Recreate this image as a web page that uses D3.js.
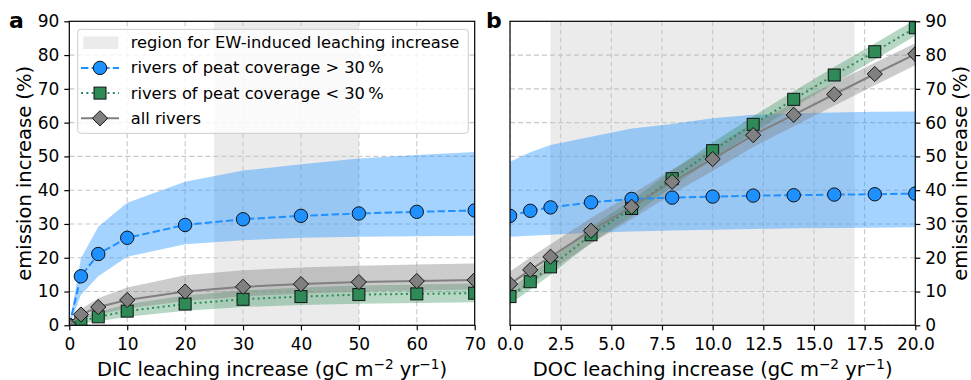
<!DOCTYPE html>
<html>
<head>
<meta charset="utf-8">
<script src="https://cdn.jsdelivr.net/npm/d3@7"></script>
<style>
  body { margin: 0; background: #fff; }
  svg { display: block; font-family: "DejaVu Sans", sans-serif; }
</style>
</head>
<body>
<div id="chart"></div>
<script>
// ============= Data =============
// panel a: DIC leaching increase
const dicX = [0, 2, 5, 10, 20, 30, 40, 50, 60, 70];
const dicPeatHigh = [0, 14.5, 21.1, 25.9, 29.7, 31.4, 32.4, 33.1, 33.6, 34.0];
const dicPeatHighLo = [0, 9.0, 14.5, 20.3, 24.0, 25.2, 25.9, 26.2, 26.4, 26.5];
const dicPeatHighHi = [0, 19.8, 29.2, 36.3, 42.5, 45.8, 47.7, 49.4, 50.4, 51.3];
const dicPeatLow = [0, 1.2, 2.5, 4.2, 6.3, 7.7, 8.5, 9.1, 9.3, 9.5];
const dicPeatLowLo = [0, 0.5, 1.2, 2.5, 4.3, 5.4, 6.0, 6.4, 6.6, 6.8];
const dicPeatLowHi = [0, 2.0, 4.0, 6.2, 8.8, 10.3, 11.2, 11.8, 12.1, 12.4];
const dicAll = [0, 3.2, 5.4, 7.5, 10.0, 11.4, 12.2, 12.8, 13.1, 13.4];
const dicAllLo = [0, 1.8, 3.2, 5.0, 7.2, 8.6, 9.4, 10.0, 10.3, 10.6];
const dicAllHi = [0, 4.8, 8.0, 11.2, 14.8, 16.3, 17.1, 17.6, 18.0, 18.3];

// panel b: DOC leaching increase
const docX = [0, 1, 2, 4, 6, 8, 10, 12, 14, 16, 18, 20];
const docPeatHigh = [32.4, 33.9, 34.9, 36.4, 37.4, 37.8, 38.1, 38.4, 38.5, 38.7, 38.8, 39.0];
const docPeatHighLo = [26.2, 26.5, 26.8, 27.4, 27.8, 28.1, 28.3, 28.5, 28.7, 28.8, 28.9, 29.0];
const docPeatHighHi = [48.4, 51.2, 53.4, 55.8, 58.3, 59.6, 61.3, 62.3, 62.8, 63.0, 63.2, 63.3];
const docPeatLow = [8.5, 12.9, 17.3, 26.8, 34.6, 43.4, 51.7, 59.5, 66.9, 74.1, 81.0, 88.1];
const docPeatLowLo = [6.3, 10.6, 15.0, 24.4, 32.2, 41.0, 49.3, 57.1, 64.5, 71.7, 78.6, 85.7];
const docPeatLowHi = [10.8, 15.2, 19.6, 29.2, 37.0, 45.8, 54.1, 61.9, 69.3, 76.5, 83.4, 90.5];
const docAll = [12.2, 16.4, 20.3, 28.0, 35.1, 42.5, 49.2, 56.3, 62.3, 68.4, 74.4, 80.3];
const docAllLo = [8.0, 12.3, 16.3, 24.2, 31.4, 38.9, 45.7, 52.8, 58.9, 65.0, 71.1, 77.0];
const docAllHi = [15.9, 20.1, 24.0, 31.8, 38.8, 46.1, 52.7, 59.8, 65.8, 71.8, 77.7, 83.5];

const yTicks = [0, 10, 20, 30, 40, 50, 60, 70, 80, 90];
const dicTicks = [0, 10, 20, 30, 40, 50, 60, 70];
const docTicks = [0, 2.5, 5, 7.5, 10, 12.5, 15, 17.5, 20];
const dicRegion = [25, 50];
const docRegion = [2, 17];

const legendLabels = [
    "region for EW-induced leaching increase",
    "rivers of peat coverage > 30\u2009%",
    "rivers of peat coverage < 30\u2009%",
    "all rivers"
];

// ============= Setup =============
const width = 971;
const height = 380;
const plotTop = 21.3, plotBottom = 325.3;

const colors = { blue: "#1e90ff", green: "#2e8b57", grey: "#808080" };
const tickFont = 17;
const labelFont = 19.5;

const svg = d3.select("#chart").append("svg")
    .attr("width", width)
    .attr("height", height);

const yScale = d3.scaleLinear().domain([0, 90]).range([plotBottom, plotTop]);

function series(xs, mid, lo, hi) {
    return xs.map((x, i) => ({ x, y: mid[i], lo: lo[i], hi: hi[i] }));
}

function marker(sel, kind, color) {
    if (kind === "circle") {
        sel.append("circle").attr("r", 6.7);
    } else if (kind === "square") {
        sel.append("rect").attr("x", -6).attr("y", -6).attr("width", 12).attr("height", 12);
    } else {
        sel.append("path").attr("d", "M0,-7.6L7.6,0L0,7.6L-7.6,0Z");
    }
    sel.selectAll("circle,rect,path")
        .attr("fill", color)
        .attr("stroke", "#111")
        .attr("stroke-width", 1);
}

function drawPanel(opts) {
    const { id, left, right, xDomain, ticks, tickFmt, region, data, axisSide, label } = opts;
    const xScale = d3.scaleLinear().domain(xDomain).range([left, right]);
    const g = svg.append("g");

    g.append("clipPath").attr("id", "clip-" + id)
        .append("rect")
        .attr("x", left).attr("y", plotTop)
        .attr("width", right - left).attr("height", plotBottom - plotTop);

    const plot = g.append("g").attr("clip-path", `url(#clip-${id})`);

    // EW region
    plot.append("rect")
        .attr("x", xScale(region[0]))
        .attr("width", xScale(region[1]) - xScale(region[0]))
        .attr("y", plotTop)
        .attr("height", plotBottom - plotTop)
        .attr("fill", "#d3d3d3")
        .attr("opacity", 0.45);

    // grid
    plot.selectAll(".gx").data(ticks).join("line")
        .attr("x1", d => xScale(d)).attr("x2", d => xScale(d))
        .attr("y1", plotTop).attr("y2", plotBottom)
        .attr("stroke", "#c8c8c8").attr("stroke-width", 1.1)
        .attr("stroke-dasharray", "5,3");
    plot.selectAll(".gy").data(yTicks).join("line")
        .attr("x1", left).attr("x2", right)
        .attr("y1", d => yScale(d)).attr("y2", d => yScale(d))
        .attr("stroke", "#c8c8c8").attr("stroke-width", 1.1)
        .attr("stroke-dasharray", "5,3");

    const area = d3.area()
        .x(d => xScale(d.x))
        .y0(d => yScale(d.lo))
        .y1(d => yScale(d.hi));
    const line = d3.line()
        .x(d => xScale(d.x))
        .y(d => yScale(d.y));

    // bands
    data.forEach(s => {
        plot.append("path")
            .datum(s.values)
            .attr("d", area)
            .attr("fill", s.color)
            .attr("fill-opacity", s.bandOpacity);
    });

    // lines + markers
    data.forEach(s => {
        plot.append("path")
            .datum(s.values)
            .attr("d", line)
            .attr("fill", "none")
            .attr("stroke", s.color)
            .attr("stroke-width", 2)
            .attr("stroke-dasharray", s.dash);
        plot.selectAll(null)
            .data(s.values)
            .join("g")
            .attr("transform", d => `translate(${xScale(d.x)},${yScale(d.y)})`)
            .each(function () { marker(d3.select(this), s.marker, s.color); });
    });

    // frame
    g.append("rect")
        .attr("x", left).attr("y", plotTop)
        .attr("width", right - left).attr("height", plotBottom - plotTop)
        .attr("fill", "none").attr("stroke", "#000").attr("stroke-width", 1.2);

    // axes
    const xAxis = g.append("g")
        .attr("transform", `translate(0,${plotBottom})`)
        .call(d3.axisBottom(xScale).tickValues(ticks).tickFormat(tickFmt).tickSize(5).tickPadding(8));
    const yAxisGen = axisSide === "left" ? d3.axisLeft(yScale) : d3.axisRight(yScale);
    const yAxis = g.append("g")
        .attr("transform", `translate(${axisSide === "left" ? left : right},0)`)
        .call(yAxisGen.tickValues(yTicks).tickFormat(d3.format("d")).tickSize(5).tickPadding(5));
    [xAxis, yAxis].forEach(a => {
        a.select(".domain").remove();
        a.selectAll(".tick line").attr("stroke", "#000").attr("stroke-width", 1.2);
        a.selectAll(".tick text")
            .attr("font-family", "DejaVu Sans, sans-serif")
            .attr("font-size", tickFont)
            .attr("fill", "#000");
    });

    // x label with superscripts
    const xl = g.append("text")
        .attr("x", (left + right) / 2)
        .attr("y", 376)
        .attr("text-anchor", "middle")
        .attr("font-size", labelFont)
        .attr("fill", "#000");
    xl.append("tspan").text(label + " (gC m");
    xl.append("tspan").attr("dy", -7).attr("font-size", labelFont * 0.7).text("\u22122");
    xl.append("tspan").attr("dy", 7).text(" yr");
    xl.append("tspan").attr("dy", -7).attr("font-size", labelFont * 0.7).text("\u22121");
    xl.append("tspan").attr("dy", 7).text(")");

    // y label
    const yx = axisSide === "left" ? 24 : 960.5;
    g.append("text")
        .attr("transform", `translate(${yx},${(plotTop + plotBottom) / 2}) rotate(-90)`)
        .attr("text-anchor", "middle")
        .attr("dominant-baseline", "central")
        .attr("font-size", labelFont)
        .attr("fill", "#000")
        .text("emission increase (%)");

    return xScale;
}

drawPanel({
    id: "a", left: 69.3, right: 474.7,
    xDomain: [0, 70], ticks: dicTicks, tickFmt: d3.format("d"),
    region: dicRegion, axisSide: "left", label: "DIC leaching increase",
    data: [
        { values: series(dicX, dicPeatHigh, dicPeatHighLo, dicPeatHighHi), color: colors.blue, bandOpacity: 0.4, dash: "7.4,3.2", marker: "circle" },
        { values: series(dicX, dicPeatLow, dicPeatLowLo, dicPeatLowHi), color: colors.green, bandOpacity: 0.35, dash: "2,3.3", marker: "square" },
        { values: series(dicX, dicAll, dicAllLo, dicAllHi), color: colors.grey, bandOpacity: 0.4, dash: null, marker: "diamond" }
    ]
});

drawPanel({
    id: "b", left: 510, right: 915.3,
    xDomain: [0, 20], ticks: docTicks, tickFmt: d3.format(".1f"),
    region: docRegion, axisSide: "right", label: "DOC leaching increase",
    data: [
        { values: series(docX, docPeatHigh, docPeatHighLo, docPeatHighHi), color: colors.blue, bandOpacity: 0.4, dash: "7.4,3.2", marker: "circle" },
        { values: series(docX, docPeatLow, docPeatLowLo, docPeatLowHi), color: colors.green, bandOpacity: 0.35, dash: "2,3.3", marker: "square" },
        { values: series(docX, docAll, docAllLo, docAllHi), color: colors.grey, bandOpacity: 0.4, dash: null, marker: "diamond" }
    ]
});

// panel letters
svg.append("text").attr("x", 9).attr("y", 28)
    .attr("font-size", 22).attr("font-weight", "bold").text("a");
svg.append("text").attr("x", 486).attr("y", 28)
    .attr("font-size", 22).attr("font-weight", "bold").text("b");

// ============= Legend =============
const legend = svg.append("g");
legend.append("rect")
    .attr("x", 77.7).attr("y", 29.3)
    .attr("width", 390.6).attr("height", 104)
    .attr("rx", 3)
    .attr("fill", "#fff").attr("fill-opacity", 0.8)
    .attr("stroke", "#ccc").attr("stroke-width", 1);

const rowY = d3.scalePoint().domain(d3.range(legendLabels.length)).range([42.7, 118.3]);

legend.append("rect")
    .attr("x", 83.3).attr("y", rowY(0) - 6.3)
    .attr("width", 35).attr("height", 12.6)
    .attr("fill", "#d3d3d3").attr("opacity", 0.45);

const handles = [
    { color: colors.blue, dash: "7.4,3.2", marker: "circle" },
    { color: colors.green, dash: "2,3.3", marker: "square" },
    { color: colors.grey, dash: null, marker: "diamond" }
];
handles.forEach((h, i) => {
    const y = rowY(i + 1);
    legend.append("line")
        .attr("x1", 81).attr("x2", 119)
        .attr("y1", y).attr("y2", y)
        .attr("stroke", h.color).attr("stroke-width", 2)
        .attr("stroke-dasharray", h.dash);
    const m = legend.append("g").attr("transform", `translate(100,${y})`);
    marker(m, h.marker, h.color);
});

legend.selectAll("text.lbl")
    .data(legendLabels)
    .join("text")
    .attr("class", "lbl")
    .attr("x", 130.7)
    .attr("y", (d, i) => rowY(i))
    .attr("dominant-baseline", "central")
    .attr("font-size", 16.3)
    .attr("fill", "#000")
    .text(d => d);
</script>
</body>
</html>
